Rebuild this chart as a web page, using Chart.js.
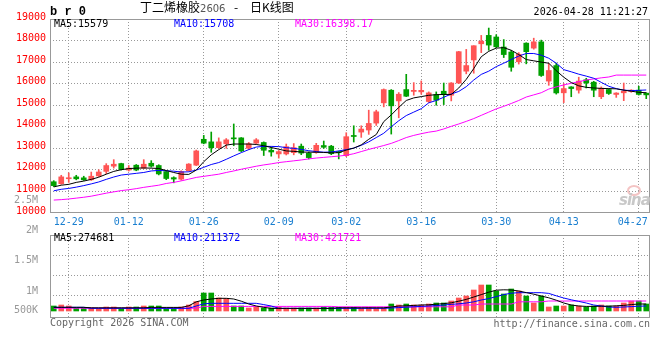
<!DOCTYPE html>
<html>
<head>
<meta charset="utf-8">
<script src="https://cdn.jsdelivr.net/npm/chart.js@4.4.1/dist/chart.umd.min.js"></script>
<style>
body{margin:0;background:#fff;}
#wrap{position:relative;width:660px;height:360px;overflow:hidden;background:#fff;}
#wrap canvas{position:absolute;left:0;top:0;}
.t{position:absolute;white-space:pre;font:10px/12px 'DejaVu Sans Mono',monospace;color:#000;}
</style>
</head>
<body>
<div id="wrap">
<canvas id="k" width="660" height="360"></canvas>
<canvas id="v" width="660" height="360"></canvas>

<div class="t" style="left:50px;top:5px;font:bold 12px/14px 'Liberation Mono',monospace">b r 0</div>
<div class="t" style="left:140px;top:0;font:12px/14px 'Noto Sans CJK SC',sans-serif">丁二烯橡胶<span style="font:10px 'DejaVu Sans',sans-serif;color:#555">2606</span></div>
<div class="t" style="left:234px;top:0;font:12px/14px 'Noto Sans CJK SC',sans-serif">-</div>
<div class="t" style="left:250px;top:0;font:12px/14px 'Noto Sans CJK SC',sans-serif">日K线图</div>
<div class="t" style="right:12px;top:6px">2026-04-28 11:21:27</div>

<div class="t" style="left:54px;top:18px">MA5:15579</div>
<div class="t" style="left:174px;top:18px;color:#0000ff">MA10:15708</div>
<div class="t" style="left:295px;top:18px;color:#ff00ff">MA30:16398.17</div>

<div class="t" style="left:54px;top:232px">MA5:274681</div>
<div class="t" style="left:174px;top:232px;color:#0000ff">MA10:211372</div>
<div class="t" style="left:295px;top:232px;color:#ff00ff">MA30:421721</div>

<div style="position:absolute;left:627px;top:185px;width:10px;height:7px;border:2px solid #f4c4c4;border-radius:50%"></div>
<div class="t" style="left:619px;top:192px;font:italic bold 15px/16px 'DejaVu Sans',sans-serif;color:#c8c8c8;letter-spacing:-1px">sina</div>

<div class="t" style="left:50px;top:317px;color:#666">Copyright 2026 SINA.COM</div>
<div class="t" style="right:10px;top:318px;color:#666">http://finance.sina.com.cn</div>
</div>

<script>
// ===== DATA =====
const dates = ['12-25','12-26','12-29','12-30','12-31','01-05','01-06','01-07','01-08','01-09',
  '01-12','01-13','01-14','01-15','01-16','01-19','01-20','01-21','01-22','01-23',
  '01-26','01-27','01-28','01-29','01-30','02-02','02-03','02-04','02-05','02-06',
  '02-09','02-10','02-11','02-12','02-13','02-24','02-25','02-26','02-27','03-02',
  '03-03','03-04','03-05','03-06','03-09','03-10','03-11','03-12','03-13','03-16',
  '03-17','03-18','03-19','03-20','03-23','03-24','03-25','03-26','03-27','03-30',
  '03-31','04-01','04-02','04-03','04-07','04-08','04-09','04-10','04-13','04-14',
  '04-15','04-16','04-17','04-20','04-21','04-22','04-23','04-24','04-27','04-28'];
const tickDates = ['12-29','01-12','01-26','02-09','03-02','03-16','03-30','04-13','04-27'];
const priceTicks = [10000,11000,12000,13000,14000,15000,16000,17000,18000,19000];

const open = [11450,11360,11590,11676,11631,11540,11721,11932,12173,12293,
  11992,12218,12083,12308,12203,11920,11640,11570,11960,12220,
  13420,13300,13030,13212,13460,13485,13000,13242,13272,12909,
  12742,12740,12800,13100,12770,12815,13130,13100,12840,12660,
  13560,13754,13850,14170,15110,15695,15200,15726,15640,15620,
  15171,15494,15650,15465,16030,16580,17100,17850,18240,18166,
  17700,17470,17015,17880,17650,17940,16120,16840,15576,15850,
  15700,16180,16070,15394,15727,15500,15576,15636,15697,15560];
const high = [11500,11750,11860,11750,11706,11900,12007,12290,12474,12310,
  12203,12250,12474,12429,12240,11940,11680,11960,12290,12920,
  13600,13757,13485,13454,14130,13500,13272,13454,13300,13060,
  12900,13200,13220,13200,12830,13231,13339,13140,12870,13724,
  14047,14047,14771,14771,15757,15726,15587,16434,16049,16126,
  15618,15618,16030,16050,17500,17590,17760,18240,18580,18272,
  18045,17545,17440,17900,18110,18020,16940,16950,16000,15860,
  16300,16250,16110,15850,15760,15580,16030,15720,15879,15576];
const low = [11225,11330,11420,11540,11510,11510,11691,11827,12083,11992,
  11947,11960,12060,12128,11767,11545,11400,11520,11940,12200,
  13210,12818,13000,13000,13121,12848,12939,13212,12667,12636,
  12545,12692,12700,12707,12507,12769,13000,12707,12510,12615,
  13293,13508,13647,14062,14925,13662,14417,15400,15464,15510,
  15125,15000,15030,15200,16000,16455,16485,17440,17550,17667,
  17212,16576,16909,16920,17600,16336,15924,15515,15121,15394,
  15560,15800,15394,15303,15500,15364,15212,15600,15470,15303];
const close = [11270,11676,11600,11586,11540,11706,11902,12203,12263,12022,
  12083,11992,12263,12173,11812,11600,11575,11920,12270,12880,
  13240,13030,13300,13394,13440,12880,13210,13394,12910,12830,
  12848,13077,13030,12780,12570,13139,13050,12750,12800,13540,
  13550,13893,14155,14694,15726,14971,15510,15418,15690,15690,
  15572,15233,15495,16030,17484,16840,17760,17970,17790,17712,
  17350,16760,17364,17485,17940,16380,16610,15570,15773,15773,
  16121,16030,15697,15790,15545,15565,15650,15700,15500,15480];

const ma5 = [11210,11290,11330,11420,11480,11560,11660,11800,11930,12010,
  12060,12080,12090,12080,12065,11970,11880,11800,11790,11990,
  12380,12700,12940,13150,13200,13200,13200,13180,13120,13040,
  12960,12880,12860,12830,12820,12820,12810,12790,12800,12920,
  13010,13160,13420,13640,14240,14550,14900,15220,15340,15400,
  15460,15490,15500,15500,15800,16200,16700,17250,17500,17650,
  17670,17550,17350,17120,17060,17000,16950,16600,16300,16050,
  15900,15830,15800,15780,15770,15760,15700,15650,15600,15579];
const ma10 = [11030,11100,11140,11200,11270,11350,11440,11560,11670,11760,
  11800,11840,11880,11950,11975,11960,11940,11900,11910,11990,
  12120,12250,12340,12490,12650,12800,12940,13060,13090,13090,
  13080,13030,13000,12950,12890,12850,12820,12830,12880,12940,
  13010,13140,13300,13500,13700,14000,14280,14520,14680,14840,
  15110,15220,15370,15520,15640,15860,16170,16430,16580,16790,
  16950,17120,17280,17400,17400,17320,17180,16950,16650,16550,
  16440,16350,16250,16060,15880,15770,15700,15680,15690,15708];
const ma30 = [10600,10620,10650,10690,10730,10780,10850,10920,10980,11040,
  11080,11130,11190,11240,11290,11370,11420,11490,11570,11650,
  11700,11750,11800,11880,11950,12030,12100,12170,12230,12280,
  12340,12380,12420,12460,12510,12550,12580,12610,12640,12680,
  12750,12850,12950,13040,13130,13230,13360,13500,13600,13680,
  13750,13800,13900,14020,14130,14250,14380,14530,14680,14830,
  14950,15080,15220,15380,15480,15580,15750,15850,15940,16020,
  16090,16170,16220,16270,16310,16398,16398,16398,16398,16398];

const vol = [225000,250000,225000,175000,175000,175000,160000,200000,200000,160000,
  200000,200000,225000,225000,225000,175000,175000,200000,250000,335000,
  550000,550000,425000,410000,225000,225000,175000,200000,175000,175000,
  200000,175000,175000,175000,175000,175000,200000,190000,190000,190000,
  190000,175000,190000,175000,175000,275000,250000,275000,250000,250000,
  275000,300000,300000,350000,425000,475000,625000,750000,750000,600000,
  525000,650000,600000,475000,300000,475000,200000,225000,225000,250000,
  225000,200000,225000,250000,225000,225000,300000,350000,350000,275000];
const volMa5 = [192000,192000,192000,192000,192000,180000,180000,180000,180000,180000,
  180000,180000,180000,190000,190000,190000,190000,190000,230000,330000,
  375000,400000,417000,417000,400000,345000,275000,225000,192000,165000,
  165000,165000,165000,165000,165000,165000,165000,165000,180000,180000,
  180000,180000,180000,180000,180000,200000,225000,230000,240000,250000,
  255000,270000,285000,305000,345000,390000,450000,510000,570000,620000,
  630000,625000,600000,560000,520000,475000,430000,370000,300000,250000,
  225000,215000,215000,220000,220000,230000,240000,260000,275000,275000];
const volMa10 = [192000,192000,192000,192000,192000,167000,167000,167000,167000,167000,
  167000,167000,167000,167000,167000,167000,167000,167000,167000,225000,
  280000,292000,292000,292000,292000,292000,292000,292000,260000,225000,
  167000,167000,167000,167000,167000,167000,167000,167000,167000,167000,
  167000,167000,167000,167000,167000,175000,185000,195000,205000,215000,
  225000,235000,250000,265000,280000,300000,330000,375000,410000,460000,
  510000,545000,558000,558000,558000,558000,540000,480000,425000,380000,
  340000,300000,250000,225000,200000,192000,200000,210000,220000,225000];
const volMa30 = [170000,170000,170000,170000,170000,170000,170000,170000,170000,170000,
  170000,170000,170000,170000,170000,170000,170000,170000,170000,170000,
  215000,215000,215000,215000,215000,215000,215000,215000,215000,215000,
  215000,215000,215000,215000,215000,215000,215000,215000,205000,205000,
  205000,205000,205000,205000,205000,205000,205000,205000,205000,205000,
  205000,205000,205000,205000,250000,250000,250000,275000,275000,275000,
  275000,275000,330000,330000,330000,330000,350000,350000,350000,350000,
  350000,350000,350000,350000,350000,350000,350000,350000,350000,350000];
const volGridTicks = [500000,1000000,1500000];
const volTickLabels = ['500K','1M','1.5M','2M','2.5M'];

// ===== STYLE =====
Chart.defaults.font.family = "'DejaVu Sans Mono', monospace";
Chart.defaults.font.size = 10;
const RED = '#ff5555', GREEN = '#00a000', GRID = '#999999', NONE = 'rgba(0,0,0,0)';

const tickSet = new Set();
dates.forEach((d,i)=>{ if(tickDates.includes(d)) tickSet.add(i); });
const lastTick = Math.max(...tickSet);
const col = close.map((c,i)=> c>=open[i] ? RED : GREEN);

// solid frame round the plot area
const frame = {
  id:'frame',
  afterDraw(c){
    const a=c.chartArea, x=c.ctx;
    x.save();
    x.strokeStyle='#999'; x.lineWidth=1;
    x.strokeRect(a.left+0.5, a.top+0.5, a.right-a.left-1, a.bottom-a.top-1);
    x.restore();
  }
};

function line(data,color){
  return {type:'line', data, borderColor:color, borderWidth:1, pointRadius:0, tension:0, order:0};
}

// dotted date grid, shared by both panels
const xGrid = {offset:false, drawTicks:false, color:c=> tickSet.has(c.index) ? GRID : NONE};

// ===== K LINE =====
new Chart(document.getElementById('k'), {
  type:'bar',
  data:{
    labels:dates,
    datasets:[
      line(ma5,'#000000'), line(ma10,'#0000ff'), line(ma30,'#ff00ff'),
      {data:dates.map((d,i)=>[open[i],close[i]]), backgroundColor:col, barThickness:5, minBarLength:1, grouped:false, order:1, clip:0},
      {data:dates.map((d,i)=>[low[i],high[i]]), backgroundColor:col, barThickness:1, grouped:false, order:2, clip:0}
    ]
  },
  options:{
    responsive:false, animation:false, events:[],
    layout:{padding:{top:19,right:10,bottom:127,left:0}},
    plugins:{legend:{display:false}, tooltip:{enabled:false}},
    scales:{
      x:{
        offset:true, grid:xGrid, border:{display:false, dash:[1,2]},
        ticks:{autoSkip:false, maxRotation:0, padding:3, color:'#1a7fd0',
          callback:(v,i)=> tickSet.has(i) ? (i===lastTick ? dates[i]+'  ' : dates[i]) : ''},
        afterFit:s=>{ s.height=20; }
      },
      y:{
        min:priceTicks[0], max:priceTicks[priceTicks.length-1],
        afterBuildTicks:s=>{ s.ticks = priceTicks.map(v=>({value:v})); },
        grid:{drawTicks:false, color:c=> (c.tick && c.tick.value>priceTicks[0] && c.tick.value<priceTicks[priceTicks.length-1]) ? GRID : NONE},
        border:{display:false, dash:[1,2]},
        ticks:{autoSkip:false, padding:4, color:'#ff0000', labelOffset:-2, callback:v=>String(v)},
        afterFit:s=>{ s.width=50; }
      }
    }
  },
  plugins:[frame]
});

// ===== VOLUME =====
new Chart(document.getElementById('v'), {
  type:'bar',
  data:{
    labels:dates,
    datasets:[
      line(volMa5,'#000000'), line(volMa10,'#0000ff'), line(volMa30,'#ff00ff'),
      {data:vol, backgroundColor:col, barThickness:5, base:100000, grouped:false, order:1, clip:0}
    ]
  },
  options:{
    responsive:false, animation:false, events:[],
    layout:{padding:{top:235,right:10,bottom:42,left:0}},
    plugins:{legend:{display:false}, tooltip:{enabled:false}},
    scales:{
      x:{
        offset:true, grid:xGrid, border:{display:false, dash:[1,2]},
        ticks:{display:false},
        afterFit:s=>{ s.height=0; }
      },
      y:{
        min:-75000, max:2000000,
        afterBuildTicks:s=>{ s.ticks = volGridTicks.map(v=>({value:v})); },
        grid:{drawTicks:false, color:GRID}, border:{display:false, dash:[1,2]},
        ticks:{display:false},
        afterFit:s=>{ s.width=0; }
      },
      yl:{
        position:'left', min:-75000, max:2000000,
        // sina prints these labels off the grid lines, kept that way
        afterBuildTicks:s=>{ s.ticks = [107500,600000,1357500,2107500,2857500].map(v=>({value:v})); },
        grid:{display:false}, border:{display:false},
        ticks:{autoSkip:false, padding:4, color:'#999999', callback:(v,i)=>volTickLabels[i]},
        afterFit:s=>{ s.width=50; }
      }
    }
  },
  plugins:[frame]
});
</script>
</body>
</html>
